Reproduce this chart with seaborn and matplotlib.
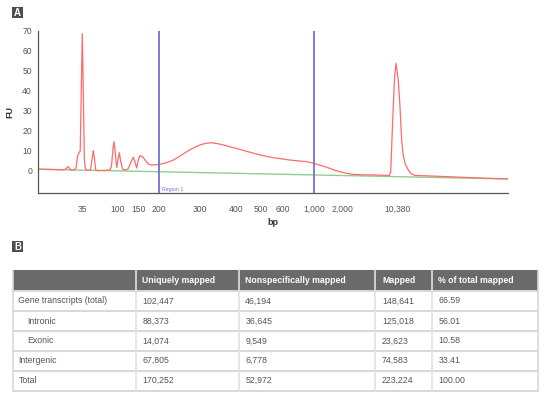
import matplotlib.pyplot as plt
import pandas as pd
import seaborn as sns
from matplotlib.patches import Rectangle

# electropherogram trace: migration time (s) vs fluorescence units
trace_time = [20.0, 22.34, 24.74, 25.34, 26.0, 26.48, 27.14, 27.54, 27.84, 28.08,
              28.38, 28.6, 28.8, 29.0, 29.2, 29.4, 29.74, 30.44, 30.78, 31.0,
              31.22, 31.48, 31.94, 33.14, 34.34, 34.64, 34.94, 35.14, 35.34, 35.68,
              36.0, 36.2, 36.44, 36.84, 37.34, 37.94, 38.54, 39.0, 39.34, 39.68,
              40.0, 40.34, 40.74, 41.0, 41.44, 42.0, 42.74, 44.2, 45.54, 47.0,
              48.34, 49.68, 50.94, 52.34, 53.54, 54.68, 55.74, 57.0, 58.54, 60.34,
              61.94, 63.68, 65.34, 67.0, 68.74, 70.34, 71.94, 73.68, 75.0, 76.34,
              77.68, 78.94, 80.34, 81.54, 83.0, 84.74, 87.0, 88.74, 90.2, 90.48,
              90.88, 91.24, 91.54, 91.74, 92.0, 92.34, 92.68, 92.94, 93.34, 94.0,
              94.54, 95.34, 98.34, 102.34, 106.34, 110.34, 114.0]
trace_fu = [0.4, 0.3, 0.1, 0.3, 1.7, 0.0, -0.1, 1.0, 7.0, 8.5,
            9.5, 40.0, 68.5, 40.0, 6.0, 0.8, -0.2, 0.0, 6.0, 9.7,
            6.0, 0.0, -0.3, -0.2, 0.0, 2.0, 11.0, 14.2, 10.0, 1.2,
            6.0, 8.7, 5.0, 0.5, 0.0, 0.5, 4.0, 6.4, 4.0, 1.0,
            5.0, 7.2, 6.8, 6.2, 4.8, 3.0, 2.5, 2.8, 3.6, 5.0,
            7.0, 9.2, 11.0, 12.6, 13.4, 13.7, 13.3, 12.6, 11.5, 10.4,
            9.2, 8.0, 7.0, 6.2, 5.6, 5.0, 4.6, 4.2, 3.4, 2.4,
            1.4, 0.2, -0.9, -1.6, -2.2, -2.4, -2.5, -2.6, -2.8, -1.0,
            25.0, 46.0, 53.6, 50.0, 45.0, 31.8, 15.0, 8.0, 3.4, 0.0,
            -1.8, -2.7, -3.0, -3.4, -3.8, -4.2, -4.5]

baseline_time = [20.0, 114.0]
baseline_fu = [0.4, -4.5]

# ladder: fragment size (bp) and migration time (s)
ladder_bp = ["35", "100", "150", "200", "300", "400", "500", "600",
             "1,000", "2,000", "10,380"]
ladder_time = [28.8, 35.8, 40.0, 44.2, 52.34, 59.48, 64.54, 68.88, 75.2, 80.88, 91.8]
region_bp = ["200", "1,000"]

# table B
col_headers = ["", "Uniquely mapped", "Nonspecifically mapped", "Mapped", "% of total mapped"]
row_labels = ["Gene transcripts (total)", "Intronic", "Exonic", "Intergenic", "Total"]
row_indent = [False, True, True, False, False]
uniquely = ["102,447", "88,373", "14,074", "67,805", "170,252"]
nonspecific = ["46,194", "36,645", "9,549", "6,778", "52,972"]
mapped = ["148,641", "125,018", "23,623", "74,583", "223,224"]
pct_total = ["66.59", "56.01", "10.58", "33.41", "100.00"]

sns.set_theme(style="white")
plt.rcParams["font.family"] = ["Liberation Sans", "DejaVu Sans"]

W, H = 545, 394
fig = plt.figure(figsize=(W / 100, H / 100), dpi=100)

# ---- panel A ----
ax = fig.add_axes([38.3 / W, 1 - 193.3 / H, 470 / W, 162.6 / H])
df = pd.DataFrame({"time": trace_time, "FU": trace_fu})
bl = pd.DataFrame({"time": baseline_time, "FU": baseline_fu})
sns.lineplot(data=bl, x="time", y="FU", color="#8fcf8f", lw=1.0, ax=ax, estimator=None)
sns.lineplot(data=df, x="time", y="FU", color="#ff6a6a", lw=0.9, ax=ax,
             estimator=None, sort=False)
for bp in region_bp:
    ax.axvline(ladder_time[ladder_bp.index(bp)], color="#6f6fe0", lw=1.3, zorder=3)
ax.text(ladder_time[ladder_bp.index("200")] + 0.5, -11.0, "Region 1", color="#7070e0",
        fontsize=3.8, va="bottom", ha="left")

ax.set_xlim(20, 114)
ax.set_ylim(-11.7, 70)
ax.set_xticks(ladder_time)
ax.set_xticklabels(ladder_bp)
ax.set_yticks(range(0, 71, 10))
ax.tick_params(axis="both", labelsize=6.2, colors="#444444", length=2.5, width=0.7,
               direction="out")
ax.tick_params(axis="y", pad=2)
ax.tick_params(axis="x", pad=6)
for lab in ax.get_xticklabels() + ax.get_yticklabels():
    lab.set_color("#555555")
ax.set_xlabel("bp", fontsize=6.5, fontweight="bold", color="#333333", labelpad=3)
ax.set_ylabel("FU", fontsize=6.5, fontweight="bold", color="#333333", labelpad=6)
sns.despine(ax=ax)
for side in ["left", "bottom"]:
    ax.spines[side].set_color("#555555")
    ax.spines[side].set_linewidth(0.9)

# ---- overlay for panel letters and table ----
ov = fig.add_axes([0, 0, 1, 1], zorder=-1)
ov.set_xlim(0, W)
ov.set_ylim(H, 0)
ov.axis("off")


def panel_letter(x, y, s):
    ov.add_patch(Rectangle((x, y), 11, 11, color="#4d4d4d", lw=0))
    ov.text(x + 5.5, y + 5.8, s, color="white", fontsize=7, fontweight="bold",
            ha="center", va="center")


panel_letter(12, 7, "A")
panel_letter(12, 241, "B")

col_x = [12.5, 135.7, 238.8, 375.4, 431.7, 538]
row_y = [269.5, 290.7, 311, 331, 350.8, 370.8, 390.6]
grid_c = "#d8d8d8"

ov.add_patch(Rectangle((col_x[0], row_y[0]), col_x[-1] - col_x[0], row_y[1] - row_y[0],
                       color="#6a6a6a", lw=0))
for i, h in enumerate(col_headers):
    ov.text(col_x[i] + 6.5, (row_y[0] + row_y[1]) / 2, h, color="white", fontsize=6.3,
            fontweight="bold", ha="left", va="center")

columns = [row_labels, uniquely, nonspecific, mapped, pct_total]
for r in range(len(row_labels)):
    yc = (row_y[r + 1] + row_y[r + 2]) / 2
    for c, col in enumerate(columns):
        x0 = col_x[c] + (6 if c == 0 else 6.5)
        if c == 0 and row_indent[r]:
            x0 += 9
        ov.text(x0, yc, col[r], color="#555555", fontsize=6.3, ha="left", va="center")

for y in row_y[1:]:
    ov.plot([col_x[0], col_x[-1]], [y, y], color=grid_c, lw=1.4)
for x in col_x:
    ov.plot([x, x], [row_y[0], row_y[-1]], color=grid_c if x in (col_x[0], col_x[-1]) else "#e2e2e2",
            lw=1.2)

fig.savefig("out.png", dpi=100)
